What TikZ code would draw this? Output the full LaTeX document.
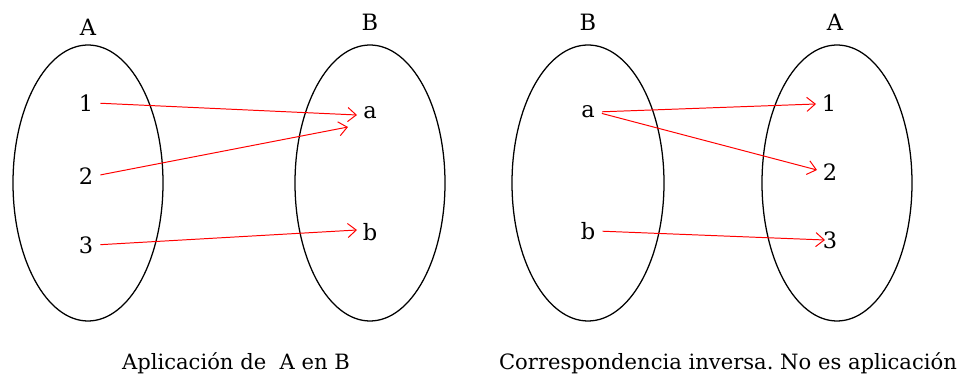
\documentclass[tikz,border=0pt]{standalone}
\usepackage{fontspec}
\setmainfont{DejaVu Serif}
\usetikzlibrary{arrows.meta,positioning}
\definecolor{ink}     {HTML}{000000}
\definecolor{arrowred}{HTML}{FF0000}

\begin{document}
\begin{tikzpicture}[x=0.025cm,y=-0.025cm,
    conjunto/.style={draw=ink,line width=0.9pt},
    elem/.style={inner sep=1pt,font=\fontsize{16}{18}\selectfont},
    rotulo/.style={inner sep=1pt,font=\fontsize{15}{18}\selectfont},
    flecha/.style={draw=arrowred,line width=0.7pt,shorten <=4pt,
                   -{Straight Barb[length=6pt,width=10pt]}}]
  \useasboundingbox (0,0) rectangle (962,385);

  % Aplicacion de A en B
  \draw[conjunto] (88,183)  ellipse [x radius=75, y radius=138];
  \draw[conjunto] (370,183) ellipse [x radius=75, y radius=138];
  \node[elem] (lA) at (88,27)  {A};
  \node[elem] (lB) at (370,22) {B};
  \node[elem] (l1) at (86,103) {1};
  \node[elem] (l2) at (86,176) {2};
  \node[elem] (l3) at (86,245) {3};
  \node[elem] (la) at (370,113) {a};
  \node[elem] (lb) at (370,232) {b};
  \coordinate (la1) at (357,115);
  \coordinate (la2) at (348,127);
  \coordinate (lb3) at (357,230);
  \draw[flecha] (l1.east) -- (la1);
  \draw[flecha] (l2.east) -- (la2);
  \draw[flecha] (l3.east) -- (lb3);
  \node[rotulo] (capL) at (236,363) {Aplicación de\ \ A en B};

  % Correspondencia inversa
  \draw[conjunto] (588,183) ellipse [x radius=76, y radius=138];
  \draw[conjunto] (837,183) ellipse [x radius=75, y radius=138];
  \node[elem] (rB) at (588,22) {B};
  \node[elem] (rA) at (835,22) {A};
  \node[elem] (ra) at (588,112) {a};
  \node[elem] (rb) at (588,231) {b};
  \node[elem] (r1) at (829,103) {1};
  \node[elem] (r2) at (830,172) {2};
  \node[elem] (r3) at (830,240) {3};
  \coordinate (r1a) at (816,104);
  \coordinate (r2a) at (817,170);
  \coordinate (r3b) at (825,240);
  \draw[flecha] (ra.east) -- (r1a);
  \draw[flecha] (ra.east) -- (r2a);
  \draw[flecha] (rb.east) -- (r3b);
  \node[rotulo] (capR) at (728,363) {Correspondencia inversa.\ No es aplicación};
\end{tikzpicture}
\end{document}
